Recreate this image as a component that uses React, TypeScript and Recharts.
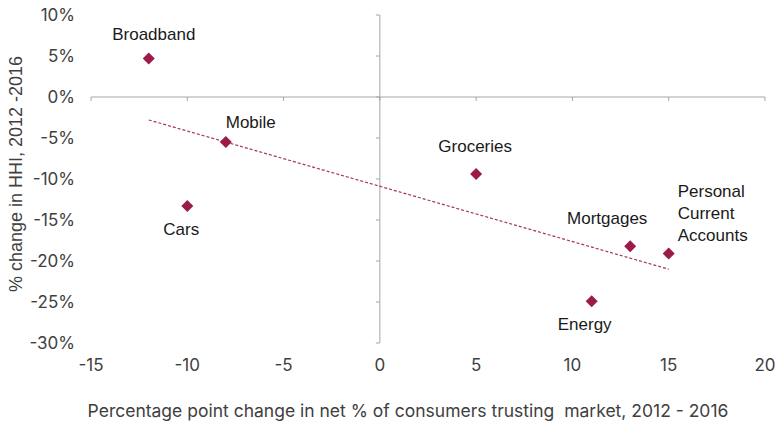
import React from 'react';
import { ScatterChart, Scatter, XAxis, YAxis, ReferenceLine } from 'recharts';

// markets and their changes, 2012 - 2016
const markets = ['Broadband', 'Mobile', 'Cars', 'Groceries', 'Mortgages', 'Personal Current Accounts', 'Energy'];
const trustChange = [-12, -8, -10, 5, 13, 15, 11];
const hhiChange = [4.7, -5.5, -13.3, -9.4, -18.2, -19.1, -24.9];

// linear trend, end points
const trendX = [-12, 15];
const trendY = [-2.8, -21.0];

const xTicks = [-15, -10, -5, 0, 5, 10, 15, 20];
const yTicks = [10, 5, 0, -5, -10, -15, -20, -25, -30];

const WINE = '#9b1b4b';
const AXIS = '#a6a6a6';
const TICK_FONT = 'Inter, "Liberation Sans", sans-serif';
const LABEL_FONT = '"Liberation Sans", Arial, sans-serif';

// where each market's label sits relative to its marker
const labelLayout: Record<string, { dx: number; dy: number; anchor: string; lines?: string[] }> = {
  Broadband: { dx: 5, dy: -18, anchor: 'middle' },
  Mobile: { dx: 25, dy: -14, anchor: 'middle' },
  Cars: { dx: -6, dy: 29, anchor: 'middle' },
  Groceries: { dx: -1, dy: -22, anchor: 'middle' },
  Mortgages: { dx: -23, dy: -22, anchor: 'middle' },
  'Personal Current Accounts': { dx: 9, dy: -57, anchor: 'start', lines: ['Personal', 'Current', 'Accounts'] },
  Energy: { dx: -7, dy: 29, anchor: 'middle' },
};

const points = markets.map((name, i) => ({ name, x: trustChange[i], y: hhiChange[i] }));
const trend = trendX.map((x, i) => ({ x, y: trendY[i] }));

const MarketPoint = (props: any) => {
  const { cx, cy, payload } = props;
  const s = 6;
  const lay = labelLayout[payload.name];
  const lines = lay.lines || [payload.name];
  return (
    <g>
      <polygon points={`${cx},${cy - s} ${cx + s},${cy} ${cx},${cy + s} ${cx - s},${cy}`} fill={WINE} />
      <text x={cx + lay.dx} y={cy + lay.dy} textAnchor={lay.anchor as any} fontFamily={LABEL_FONT} fontSize={17} fill="#1a1a1a">
        {lines.map((l, i) => (
          <tspan key={i} x={cx + lay.dx} dy={i === 0 ? 0 : 22}>{l}</tspan>
        ))}
      </text>
    </g>
  );
};

// axis line crossing the plot, with small tick marks like the original
const CrossAxisH = (props: any) => {
  const { x1, y1, x2 } = props;
  const span = xTicks[xTicks.length - 1] - xTicks[0];
  return (
    <g>
      <line x1={x1} y1={y1} x2={x2} y2={y1} stroke={AXIS} strokeWidth={1} />
      {xTicks.map((t) => {
        const x = x1 + ((t - xTicks[0]) / span) * (x2 - x1);
        return <line key={t} x1={x} y1={y1} x2={x} y2={y1 + 4} stroke={AXIS} strokeWidth={1} />;
      })}
    </g>
  );
};

const CrossAxisV = (props: any) => {
  const { x1, y1, y2 } = props;
  const top = yTicks[0];
  const span = yTicks[0] - yTicks[yTicks.length - 1];
  const yTop = Math.min(y1, y2);
  const yBot = Math.max(y1, y2);
  return (
    <g>
      <line x1={x1} y1={yTop} x2={x1} y2={yBot} stroke={AXIS} strokeWidth={1} />
      {yTicks.map((t) => {
        const y = yTop + ((top - t) / span) * (yBot - yTop);
        return <line key={t} x1={x1 - 4} y1={y} x2={x1} y2={y} stroke={AXIS} strokeWidth={1} />;
      })}
    </g>
  );
};

export default function App() {
  return (
    <div style={{ position: 'absolute', left: 0, top: 0, background: '#fff' }}>
      <ScatterChart width={778} height={425} margin={{ top: 15, right: 13, left: 0, bottom: 0 }}>
        <XAxis
          type="number"
          dataKey="x"
          domain={[-15, 20]}
          ticks={xTicks}
          axisLine={false}
          tickLine={false}
          tickMargin={10}
          height={82}
          tick={{ fontFamily: TICK_FONT, fontSize: 17, fill: '#404040' }}
          label={{
            content: () => (
              <text x={408} y={417} textAnchor="middle" fontFamily={TICK_FONT} fontSize={17.5} fill="#404040" style={{ whiteSpace: 'pre' }}>
                {'Percentage point change in net % of consumers trusting  market, 2012 - 2016'}
              </text>
            ),
          }}
        />
        <YAxis
          type="number"
          dataKey="y"
          domain={[-30, 10]}
          ticks={yTicks}
          axisLine={false}
          tickLine={false}
          tickMargin={10}
          width={91}
          tickFormatter={(v: number) => `${v}%`}
          tick={{ fontFamily: TICK_FONT, fontSize: 17, fill: '#404040' }}
          label={{
            content: () => (
              <text x={22} y={174} transform="rotate(-90 22 174)" textAnchor="middle" fontFamily={LABEL_FONT} fontSize={18} fill="#404040">
                % change in HHI, 2012 -2016
              </text>
            ),
          }}
        />
        <ReferenceLine y={0} shape={CrossAxisH} />
        <ReferenceLine x={0} shape={CrossAxisV} />
        <Scatter
          data={trend}
          line={{ stroke: '#a8325f', strokeDasharray: '3 2', strokeWidth: 1.2 }}
          lineType="joint"
          shape={() => <g />}
          isAnimationActive={false}
        />
        <Scatter data={points} shape={MarketPoint} isAnimationActive={false} />
      </ScatterChart>
    </div>
  );
}
